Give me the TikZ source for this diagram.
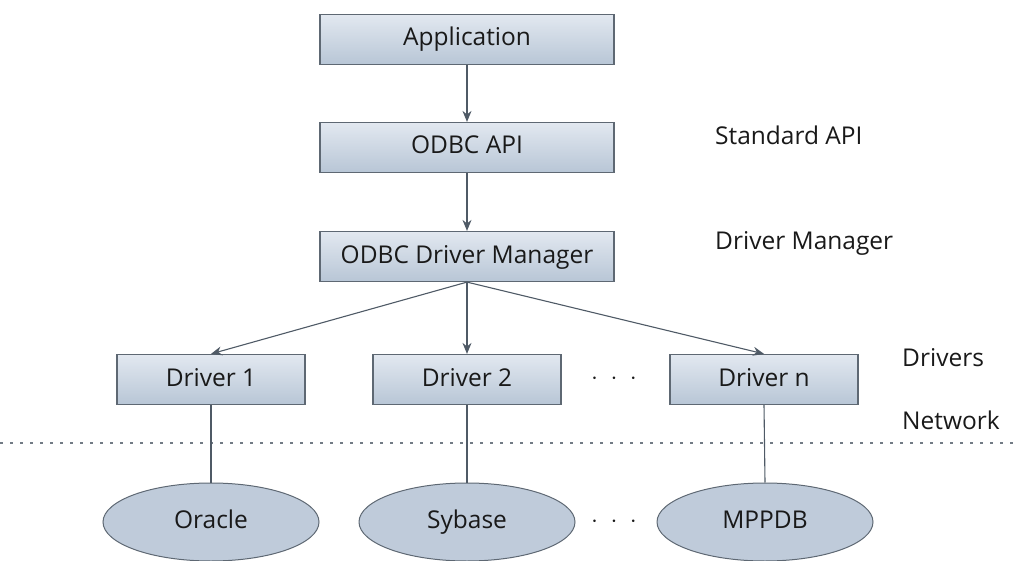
\documentclass[tikz,border=0pt]{standalone}
\usepackage{fontspec}
\setmainfont{Open Sans}
\usetikzlibrary{shapes.geometric,arrows.meta}
\definecolor{boxtop}{HTML}{E2E8F0}
\definecolor{boxbot}{HTML}{B8C6D6}
\definecolor{boxline}{HTML}{5E6873}
\definecolor{ellfill}{HTML}{BFCBDA}
\definecolor{conn}{HTML}{4F5A66}
\tikzset{
  every node/.style={font=\fontsize{24.5}{28}\selectfont, text=black!90},
  layerbox/.style={draw=boxline, line width=1.2pt, top color=boxtop, bottom color=boxbot, minimum height=50pt, inner sep=0pt, text height=18pt, text depth=5pt},
  dbell/.style={ellipse, draw=boxline, line width=1pt, fill=ellfill, minimum width=216pt, minimum height=78pt, inner sep=0pt, text height=18pt, text depth=5pt},
  arr/.style={conn, line width=1.1pt, -{Stealth[length=11pt,width=9pt]}},
  link/.style={conn, line width=1.1pt},
  sidelabel/.style={anchor=west, inner sep=0pt},
  dotslabel/.style={font=\fontsize{26}{28}\selectfont\bfseries},
}
\begin{document}
\begin{tikzpicture}[x=1pt,y=-1pt]
\useasboundingbox (0,0) rectangle (1016,561);
\node[layerbox, minimum width=294pt] (app) at (467,39.5) {Application};
\node[layerbox, minimum width=294pt] (api) at (467,147.5) {ODBC API};
\node[layerbox, minimum width=294pt] (mgr) at (467,256.5) {ODBC Driver Manager};
\node[layerbox, minimum width=188pt] (d1) at (211,379.5) {Driver 1};
\node[layerbox, minimum width=188pt] (d2) at (467,379.5) {Driver 2};
\node[layerbox, minimum width=188pt] (dn) at (764,379.5) {Driver n};
\node[dotslabel] (dotsA) at (614,379) {$\cdot\;\cdot\;\cdot$};
\node[dbell] (ora) at (211,522) {Oracle};
\node[dbell] (syb) at (467,522) {Sybase};
\node[dbell] (mpp) at (765,522) {MPPDB};
\node[dotslabel] (dotsB) at (614,522) {$\cdot\;\cdot\;\cdot$};
\node[sidelabel] (lapi) at (715,135) {Standard API};
\node[sidelabel] (lmgr) at (715,243) {Driver Manager};
\node[sidelabel] (ldrv) at (902,358) {Drivers};
\node[sidelabel] (lnet) at (902,420) {Network};
\coordinate (nl) at (0,443);
\coordinate (nr) at (1016,443);
\draw[conn!80, line width=1.4pt, dash pattern=on 3pt off 7pt] (nl) -- (nr);
\draw[arr] (app.south) -- (api.north);
\draw[arr] (api.south) -- (mgr.north);
\draw[arr] (mgr.south) -- (d1.north);
\draw[arr] (mgr.south) -- (d2.north);
\draw[arr] (mgr.south) -- (dn.north);
\draw[link] (d1.south) -- (ora.north);
\draw[link] (d2.south) -- (syb.north);
\draw[link] (dn.south) -- (mpp.north);
\end{tikzpicture}
\end{document}
